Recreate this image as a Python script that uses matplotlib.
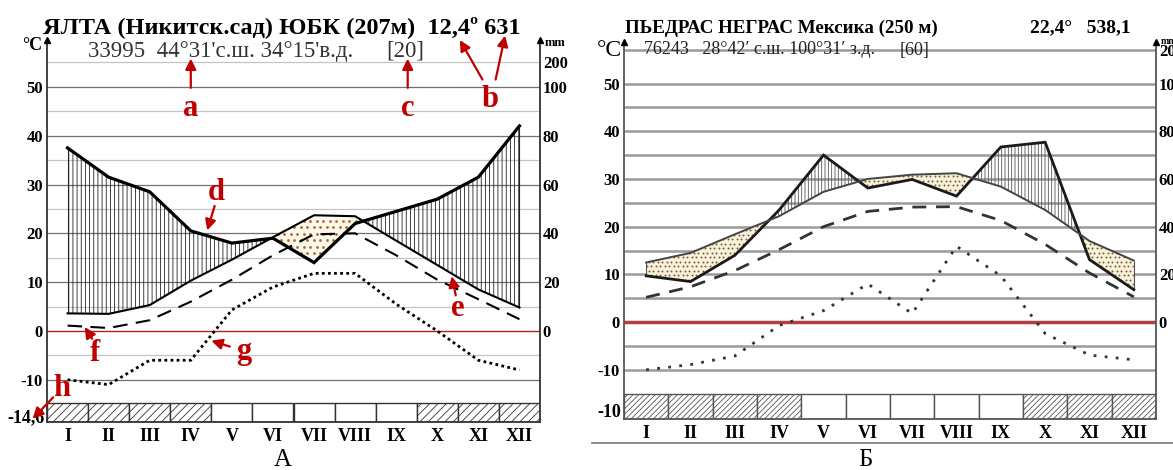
import matplotlib
matplotlib.use('Agg')
import matplotlib.pyplot as plt
from matplotlib.patches import Rectangle
import numpy as np

plt.rcParams['font.family'] = ['Liberation Serif', 'DejaVu Serif']
plt.rcParams['hatch.linewidth'] = 0.6

months = ['I', 'II', 'III', 'IV', 'V', 'VI', 'VII', 'VIII', 'IX', 'X', 'XI', 'XII']

# ---- A: Yalta ----
yalta_temp = [3.6, 3.5, 5.3, 10.3, 14.6, 19.2, 23.7, 23.5, 18.5, 13.5, 8.5, 4.8]
yalta_precip_mm = [75, 63, 57, 41, 36, 38, 28, 44, 49, 54, 63, 84]
yalta_dash = [1.1, 0.6, 2.2, 6.0, 10.5, 15.5, 19.8, 20.0, 15.5, 10.5, 6.5, 2.4]
yalta_dot = [-10, -11, -6, -6, 4.3, 9.0, 11.8, 11.8, 5.5, 0.0, -6.0, -8.0]
yalta_cold = [1, 1, 1, 1, 0, 0, 0, 0, 0, 1, 1, 1]

# ---- Б: Piedras Negras ----
pn_temp = [12.5, 14.5, 18.4, 22.2, 27.3, 30.0, 30.9, 31.2, 28.4, 23.5, 17.0, 12.9]
pn_precip_mm = [19.4, 17.0, 28.0, 47.0, 70.0, 56.2, 59.8, 52.8, 73.4, 75.4, 26.2, 13.6]
pn_dash = [5.2, 7.4, 10.8, 15.2, 20.0, 23.2, 24.1, 24.2, 21.3, 16.3, 10.3, 5.3]
pn_dot = [-10, -8.9, -7.1, -0.7, 2.4, 8.0, 1.8, 15.9, 9.7, -2.4, -6.9, -7.9]
pn_cold = [1, 1, 1, 1, 0, 0, 0, 0, 0, 1, 1, 1]

temp_ticks = [50, 40, 30, 20, 10, 0, -10]
mm_ticks = [200, 100, 80, 60, 40, 20, 0]

W, H = 1173, 470
fig = plt.figure(figsize=(W / 100, H / 100), dpi=100)


def rect(x0, y0, x1, y1):
    return [x0 / W, 1 - y1 / H, (x1 - x0) / W, (y1 - y0) / H]


def ftxt(px, py, s, **kw):
    fig.text(px / W, 1 - py / H, s, **kw)


def mm_to_t(mm, top200):
    return [m / 2 if m <= 100 else top200 for m in mm]


def dot_fill(ax, coll, step_px, wpx, hpx, color, size):
    # regular staggered dot texture clipped to the arid polygons
    nx = int(wpx / step_px) + 2
    ny = int(hpx / step_px) + 2
    xs, ys = [], []
    for j in range(ny):
        off = 0.5 if j % 2 else 0.0
        for i in range(nx):
            xs.append((i + off) * step_px / wpx)
            ys.append(j * step_px / hpx)
    for path in coll.get_paths():
        sc = ax.scatter(xs, ys, s=size, color=color, transform=ax.transAxes,
                        linewidths=0, zorder=3.5)
        sc.set_clip_path(path, ax.transData)


def panel(ax, temp, precip_mm, dash, dot, cold, ylim, bar_top, top200, sty, wpx, hpx):
    x = np.arange(12)
    t = np.array(temp, float)
    p = np.array(mm_to_t(precip_mm, top200), float)
    ax.set_xlim(-0.5, 11.5)
    ax.set_ylim(*ylim)
    # grid
    for v in range(-10, 55, 5):
        if v == 0:
            continue
        major = (v % 10 == 0)
        ax.axhline(v, color=sty['gmaj'] if major else sty['gmin'],
                   lw=sty['glw_maj'] if major else sty['glw_min'], zorder=1)
    ax.axhline(top200, color=sty['gmin'], lw=sty['glw_min'], zorder=1)
    ax.axhline(0, color=sty['red'], lw=sty['redlw'], zorder=2)
    # humid hatch
    ax.fill_between(x, t, p, where=p >= t, interpolate=True, facecolor='none',
                    hatch=sty['vhatch'], edgecolor=sty['vcol'], lw=0, zorder=3)
    # arid dots
    arid = ax.fill_between(x, t, p, where=t >= p, interpolate=True, facecolor=sty['arid_bg'],
                           lw=0, zorder=3)
    dot_fill(ax, arid, sty['dstep'], wpx, hpx, sty['dotcol'], sty['dsize'])
    ax.vlines([0, 11], [min(t[0], p[0]), min(t[11], p[11])],
              [max(t[0], p[0]), max(t[11], p[11])], color=sty['vcol'], lw=0.8, zorder=3)
    # lines
    ax.plot(x, p, color=sty['pcol'], lw=sty['plw'], zorder=5, solid_joinstyle='miter')
    ax.plot(x, t, color=sty['tcol'], lw=sty['tlw'], zorder=5)
    ax.plot(x, dash, color=sty['dcol'], lw=sty['dlw'], dashes=sty['dashes'], zorder=5)
    ax.plot(x, dot, color=sty['dcol'], lw=sty['dotlw'], dashes=sty['dots'], zorder=5)
    # bottom bar
    for i, c in enumerate(cold):
        ax.add_patch(Rectangle((i - 0.5, ylim[0]), 1, bar_top - ylim[0],
                               facecolor='white', edgecolor=sty['barcol'], lw=1.0,
                               hatch=sty['bhatch'] if c else None, zorder=4))
    ax.spines['top'].set_visible(False)
    for s in ['left', 'right', 'bottom']:
        ax.spines[s].set_color(sty['spine'])
        ax.spines[s].set_linewidth(1.3)
        ax.spines[s].set_zorder(6)
    for xa in (0, 1):
        ax.plot([xa], [1.0], marker='^', ms=5, color='k', transform=ax.transAxes,
                clip_on=False, zorder=7)
    ax.set_yticks(temp_ticks)
    ax.set_yticklabels([str(v) for v in temp_ticks], fontweight='bold', fontsize=12)
    ax.tick_params(axis='y', length=0, pad=3)
    ax.set_xticks(x)
    ax.set_xticklabels(months, fontweight='bold', fontsize=13)
    ax.tick_params(axis='x', length=0, pad=4)
    ax2 = ax.twinx()
    ax2.set_ylim(*ylim)
    pos = mm_to_t(mm_ticks, top200)
    ax2.set_yticks(pos)
    ax2.set_yticklabels([str(v) for v in mm_ticks], fontweight='bold', fontsize=12)
    ax2.tick_params(axis='y', length=0, pad=2)
    for s in ax2.spines.values():
        s.set_visible(False)
    return ax2


styA = dict(gmaj='#707070', gmin='#c4c4c4', glw_maj=0.9, glw_min=0.9, red='#b52020', redlw=1.0,
            vhatch='||||', vcol='#222222', arid_bg='#fdf7ee', dstep=6.5, dsize=4.0,
            dotcol='#a86a28',
            pcol='black', plw=2.3, tcol='black', tlw=1.5, dcol='black', dlw=1.5,
            dashes=(7, 4), dotlw=2.0, dots=(1, 1.2), barcol='#333333', bhatch='////',
            spine='#333333')
styB = dict(gmaj='#9a9a9a', gmin='#9a9a9a', glw_maj=1.8, glw_min=1.8, red='#b34040', redlw=2.5,
            vhatch='|||||', vcol='#555555', arid_bg='#fbf0d8', dstep=4.5, dsize=2.0,
            dotcol='#6e604a',
            pcol='#1a1a1a', plw=2.0, tcol='#444444', tlw=1.4, dcol='#333333', dlw=2.0,
            dashes=(5, 3.5), dotlw=2.0, dots=(1, 3), barcol='#555555', bhatch='//////',
            spine='#555555')

axA = fig.add_axes(rect(47, 40, 540, 422))
panel(axA, yalta_temp, yalta_precip_mm, yalta_dash, yalta_dot, yalta_cold,
      (-18.65, 59.6), -14.8, 55, styA, 493, 382)
axB = fig.add_axes(rect(624, 42, 1156, 419))
panel(axB, pn_temp, pn_precip_mm, pn_dash, pn_dot, pn_cold,
      (-20.3, 58.7), -15.0, 57, styB, 532, 377)

# bottom-left labels
axA.annotate('-14,6', xy=(0, -18.65), xycoords=('axes fraction', 'data'), xytext=(-2, 3),
             textcoords='offset points', ha='right', va='center', fontweight='bold', fontsize=13)
axB.annotate('-10', xy=(0, -20.3), xycoords=('axes fraction', 'data'), xytext=(-2, 5),
             textcoords='offset points', ha='right', va='center', fontweight='bold', fontsize=13)

# titles
ftxt(43, 27, 'ЯЛТА (Никитск.сад) ЮБК (207м)  12,4º 631', fontsize=17.5, fontweight='bold',
     va='center')
ftxt(88, 51, "33995  44°31'с.ш. 34°15'в.д.", fontsize=16.5, color='#333333', va='center')
ftxt(405, 51, '[20]', fontsize=16.5, color='#333333', va='center', ha='center')
ftxt(22, 45, '°C', fontsize=13, fontweight='bold', va='center')
ftxt(545, 43, 'mm', fontsize=9, fontweight='bold', va='center')

ftxt(625, 28, 'ПЬЕДРАС НЕГРАС Мексика (250 м)', fontsize=13.7, fontweight='bold', va='center')
ftxt(1030, 28, '22,4°   538,1', fontsize=14, fontweight='bold', va='center')
ftxt(644, 50, '76243   28°42′ с.ш. 100°31′ з.д.', fontsize=13, color='#222222', va='center')
ftxt(915, 50, '[60]', fontsize=13, color='#222222', va='center', ha='center')
ftxt(597, 50, '°C', fontsize=17, va='center')
ftxt(1161, 41, 'mm', fontsize=7, fontweight='bold', va='center')

ftxt(283, 460, 'А', fontsize=18, ha='center', va='center')
ftxt(865, 460, 'Б', fontsize=18, ha='center', va='center')
fig.add_artist(plt.Line2D([592 / W, 1.0], [1 - 443 / H, 1 - 443 / H], color='#777777', lw=1.2))

# red annotations (A)
red = '#c00000'
ap = dict(arrowstyle='-|>', color=red, lw=1.6, mutation_scale=16, shrinkA=0, shrinkB=0)


def note(letter, lx, ly, tips):
    axA.text(lx, ly, letter, color=red, fontsize=22, fontweight='bold', ha='center',
             va='center', zorder=10, clip_on=False)
    for (tx0, ty0, tx, ty) in tips:
        axA.annotate('', xy=(tx, ty), xytext=(tx0, ty0), arrowprops=ap,
                     annotation_clip=False, zorder=10)


note('a', 3.0, 45.5, [(3.0, 49.8, 3.0, 55.8)])
note('c', 8.28, 45.5, [(8.28, 49.8, 8.28, 55.8)])
note('b', 10.28, 47.5, [(10.1, 51.5, 9.55, 59.6), (10.42, 51.5, 10.65, 60.5)])
note('d', 3.63, 28.3, [(3.58, 25.6, 3.4, 20.6)])
note('e', 9.5, 4.5, [(9.45, 7.3, 9.35, 11.2)])
note('f', 0.67, -4.6, [(0.6, -1.6, 0.42, 0.8)])
note('g', 4.28, -4.3, [(3.95, -3.2, 3.5, -2.0)])
note('h', -0.13, -11.8, [(-0.35, -13.6, -0.85, -18.0)])

fig.savefig('out.png', dpi=100)
